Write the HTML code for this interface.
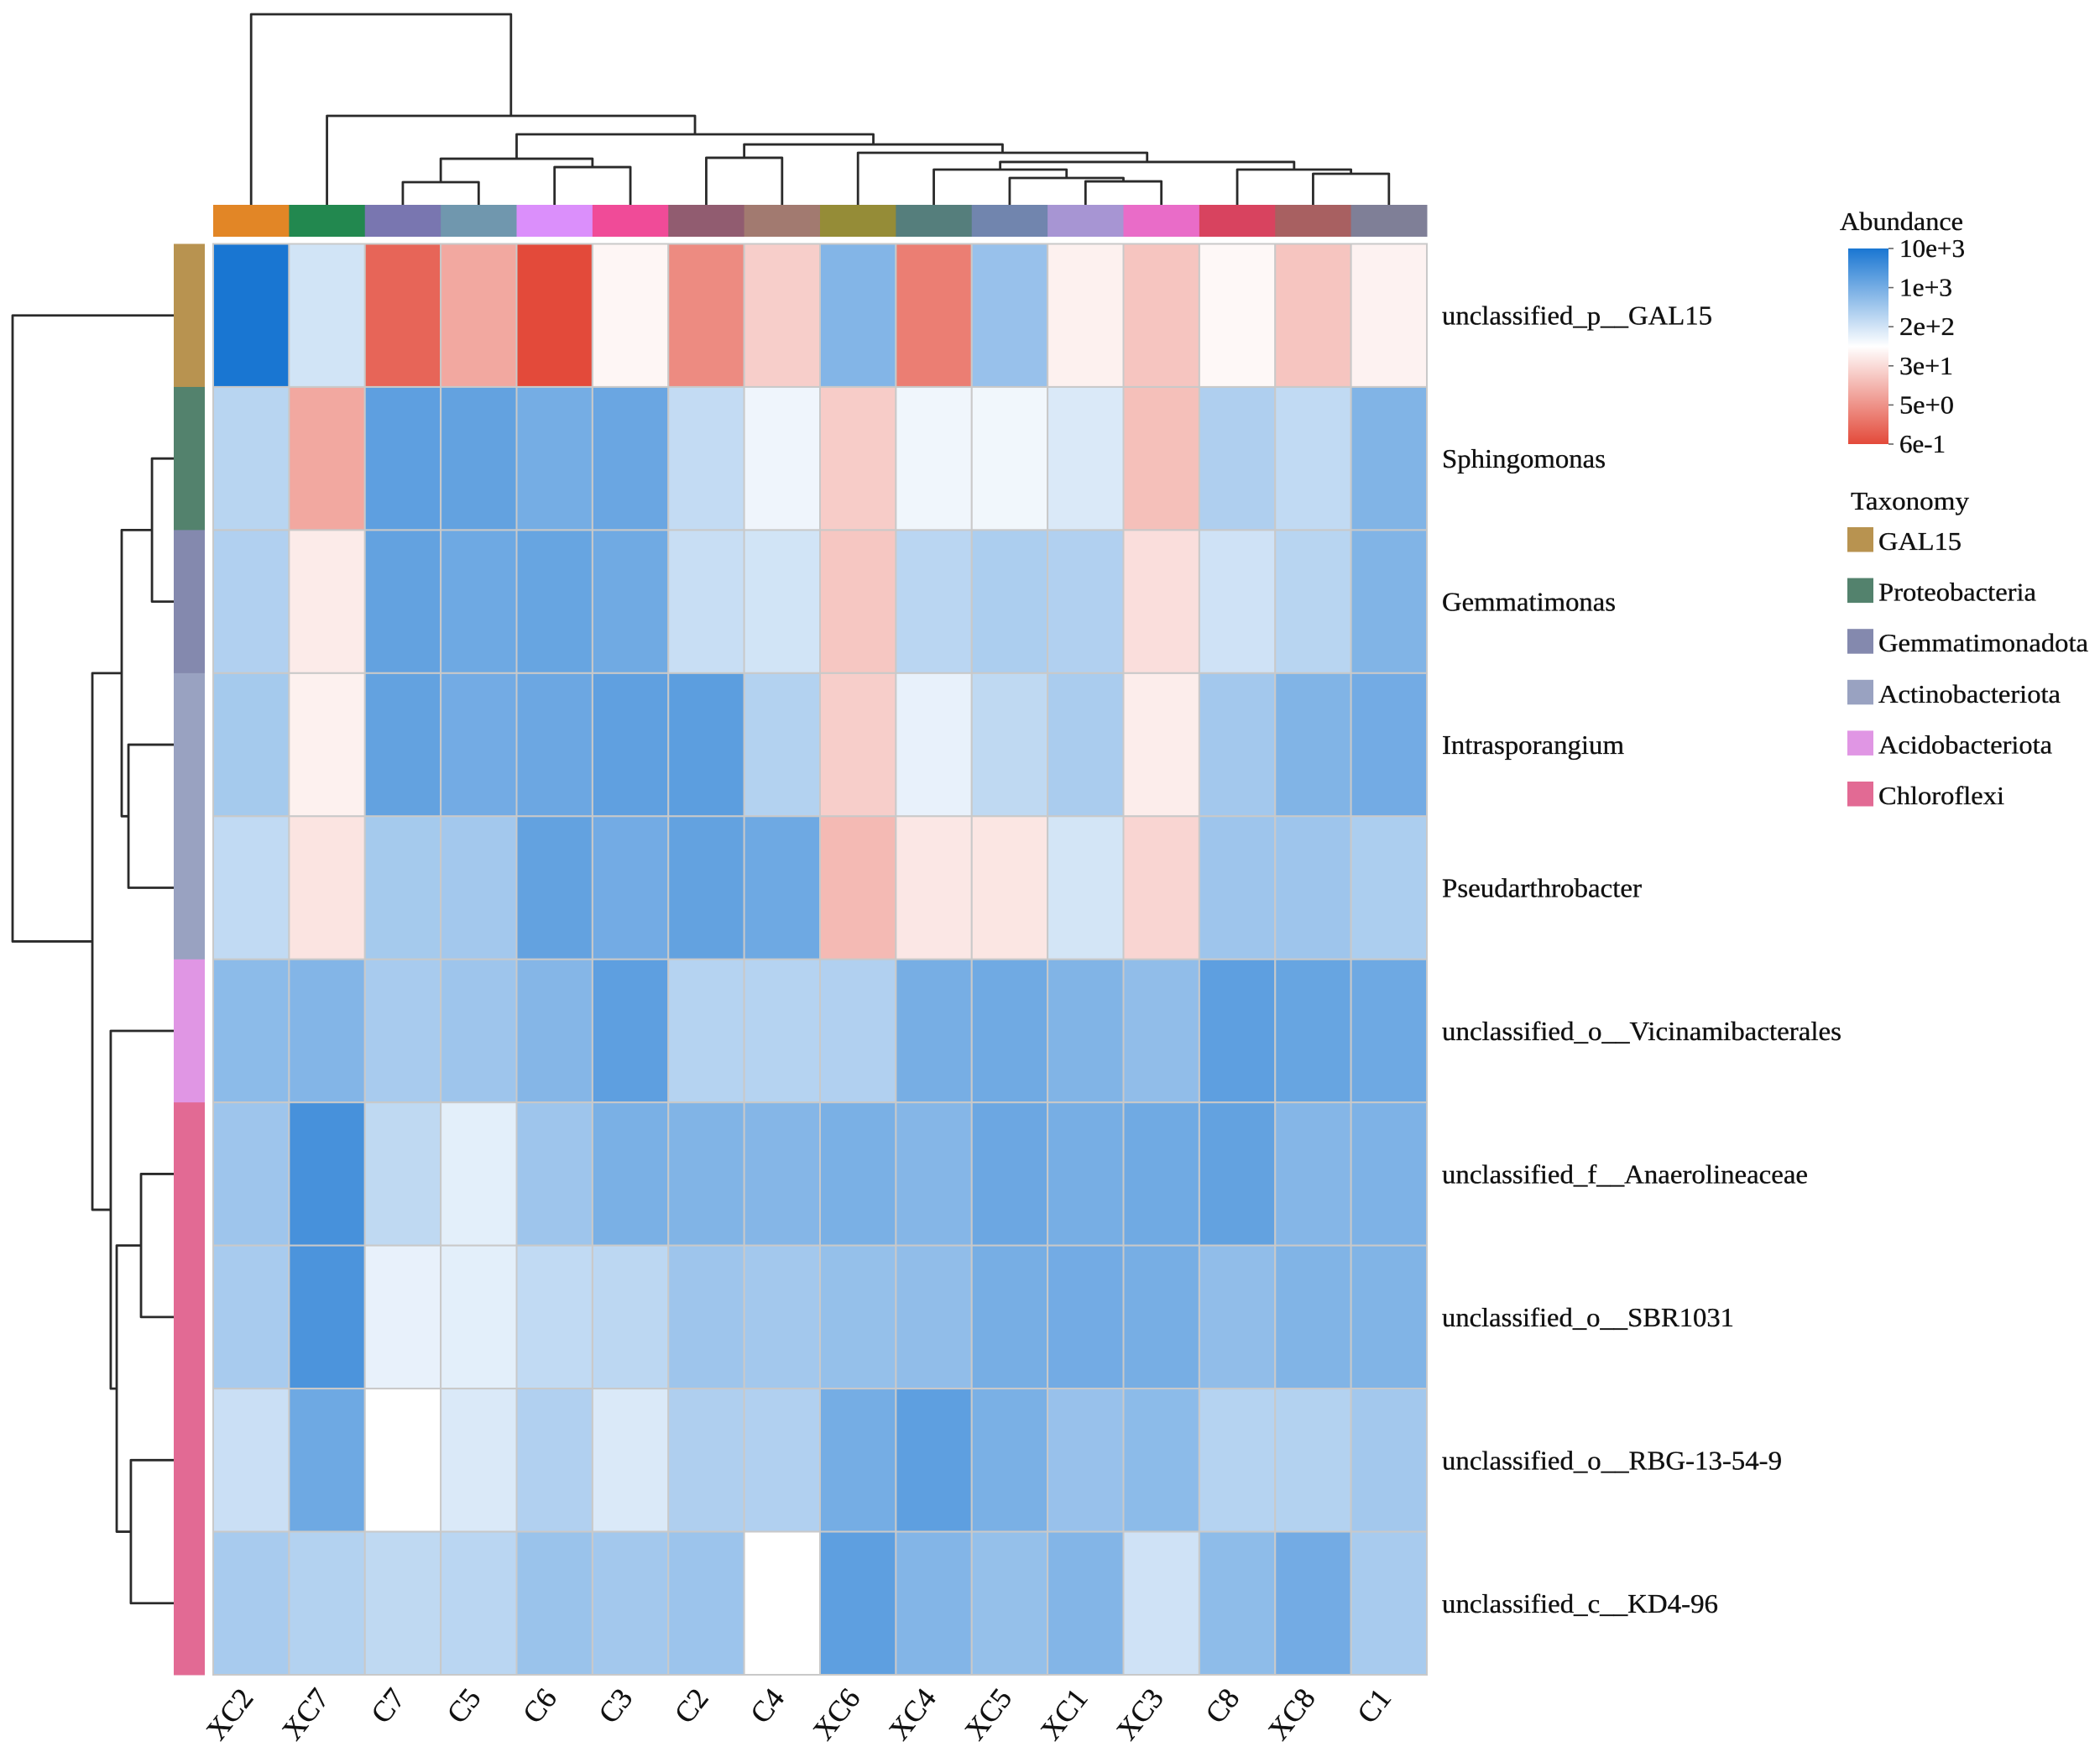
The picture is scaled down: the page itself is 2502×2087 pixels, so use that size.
<!DOCTYPE html>
<html lang="en">
<head>
<meta charset="utf-8">
<title>Taxonomic abundance clustered heatmap</title>
<style>
html,body{margin:0;padding:0;background:#fff;}
svg{display:block;}
text{font-family:"Liberation Serif","DejaVu Serif",serif;fill:#111;stroke:#111;stroke-width:0.35px;}
</style>
</head>
<body>
<svg id="chart" xmlns="http://www.w3.org/2000/svg" width="2502" height="2087" viewBox="0 0 2502 2087">
  <defs>
    <linearGradient id="cbar" x1="0" y1="0" x2="0" y2="1">
      <stop offset="0" stop-color="#1976d2"/>
      <stop offset="0.5" stop-color="#ffffff"/>
      <stop offset="1" stop-color="#e34a3a"/>
    </linearGradient>
  </defs>
  <rect x="0" y="0" width="2502" height="2087" fill="#ffffff"/>
  <g id="colDendro"></g>
  <g id="rowDendro"></g>
  <g id="colAnnot"></g>
  <g id="rowAnnot"></g>
  <g id="cells"></g>
  <g id="rowLabels"></g>
  <g id="colLabels"></g>
  <g>
    <text x="2192" y="274" font-size="31" textLength="147" lengthAdjust="spacingAndGlyphs">Abundance</text>
    <rect x="2202" y="296" width="48" height="233" fill="url(#cbar)"/>
    <g id="cbarTicks"></g>
  </g>
  <g>
    <text x="2205" y="607" font-size="31" textLength="141" lengthAdjust="spacingAndGlyphs">Taxonomy</text>
    <g id="taxLegend"></g>
  </g>
</svg>
<script>
// ---- Data ----
const sampleNames = ["XC2","XC7","C7","C5","C6","C3","C2","C4","XC6","XC4","XC5","XC1","XC3","C8","XC8","C1"];
const sampleColors = ["#e28626","#22884f","#7976b0","#7097ae","#db8ffb","#f04b98","#915c70","#a27a70","#958c37","#557e7c","#7185ae","#a795d3","#e96cc8","#d8435f","#a86061","#7f7f97"];
const taxaNames = ["unclassified_p__GAL15","Sphingomonas","Gemmatimonas","Intrasporangium","Pseudarthrobacter","unclassified_o__Vicinamibacterales","unclassified_f__Anaerolineaceae","unclassified_o__SBR1031","unclassified_o__RBG-13-54-9","unclassified_c__KD4-96"];
const taxaGroups = ["GAL15","Proteobacteria","Gemmatimonadota","Actinobacteriota","Actinobacteriota","Acidobacteriota","Chloroflexi","Chloroflexi","Chloroflexi","Chloroflexi"];
const groupNames = ["GAL15","Proteobacteria","Gemmatimonadota","Actinobacteriota","Acidobacteriota","Chloroflexi"];
const groupColors = ["#b89350","#53826d","#8489ae","#99a2c1","#e096e4","#e26a94"];
const colorbarTicks = ["10e+3","1e+3","2e+2","3e+1","5e+0","6e-1"];

// Scaled abundance per taxon: +1 = deepest blue, 0 = white, -1 = deepest red
const scoresGAL15 = [1,.2,-.85,-.48,-1,-.05,-.64,-.27,.54,-.71,.45,-.08,-.32,-.04,-.32,-.07];
const scoresSphingomonas = [.31,-.48,.7,.68,.6,.65,.26,.07,-.28,.065,.06,.16,-.35,.35,.27,.55];
const scoresGemmatimonas = [.34,-.11,.68,.63,.66,.62,.24,.2,-.31,.3,.36,.34,-.18,.21,.31,.55];
const scoresIntrasporangium = [.39,-.08,.68,.61,.64,.69,.71,.33,-.27,.1,.28,.37,-.1,.4,.55,.61];
const scoresPseudarthrobacter = [.27,-.15,.39,.4,.68,.61,.68,.63,-.38,-.13,-.14,.19,-.23,.42,.42,.36];
const scoresVicinamibacterales = [.5,.54,.38,.42,.53,.7,.32,.32,.34,.59,.62,.55,.48,.7,.66,.63];
const scoresAnaerolineaceae = [.42,.8,.28,.12,.42,.58,.55,.53,.58,.53,.64,.59,.62,.68,.53,.56];
const scoresSBR1031 = [.38,.78,.1,.12,.27,.29,.42,.4,.46,.48,.59,.61,.59,.48,.55,.55];
const scoresRBG = [.23,.63,0,.16,.34,.16,.35,.34,.6,.7,.58,.45,.5,.32,.33,.4];
const scoresKD496 = [.38,.33,.28,.3,.44,.4,.43,0,.7,.54,.46,.54,.21,.49,.61,.38];
const heatRows = [scoresGAL15,scoresSphingomonas,scoresGemmatimonas,scoresIntrasporangium,scoresPseudarthrobacter,scoresVicinamibacterales,scoresAnaerolineaceae,scoresSBR1031,scoresRBG,scoresKD496];

// Dendrogram merges: [left, right, distance]. n>=0 is a leaf index; n<0 is merge ~n.
const colMerges = [[2,3,11.9],[4,5,19.8],[-1,-2,24.2],[6,7,24.7],[11,12,12.3],[10,-5,14.1],[9,-6,18.5],[14,15,16.3],[13,-8,18.5],[-7,-9,22.5],[8,-10,27.3],[-4,-11,31.7],[-3,-12,37.0],[1,-13,46.7],[0,-14,100]];
const rowMerges = [[1,2,13.5],[3,4,28.1],[-1,-2,32.3],[6,7,20.3],[8,9,26.6],[-4,-5,35.4],[5,-6,39.1],[-3,-7,50.5],[0,-8,100]];

// ---- Layout and scales ----
const NS = "http://www.w3.org/2000/svg";
const plotLeft = 254, plotRight = 1700, plotTop = 290.5, plotBottom = 1995;
const cellW = (plotRight - plotLeft) / sampleNames.length;
const cellH = (plotBottom - plotTop) / taxaNames.length;
const xAt = i => plotLeft + cellW * i;
const yAt = i => plotTop + cellH * i;
const colDendroY = d => 244 - d / 100 * 227;
const rowDendroX = d => 207 - d / 100 * 192;

function colorFor(v) {
  const t = Math.min(1, Math.abs(v));
  const end = v >= 0 ? [25,118,210] : [227,74,58];
  const c = end.map(e => Math.round(255 + (e - 255) * t));
  return "rgb(" + c.join(",") + ")";
}
function make(tag, attrs, parent) {
  const el = document.createElementNS(NS, tag);
  for (const k in attrs) el.setAttribute(k, attrs[k]);
  parent.appendChild(el);
  return el;
}
function slug(s) {
  return s.toLowerCase().replace(/[^a-z0-9]+/g, "-");
}

// Heat cells
const cellsG = document.getElementById("cells");
heatRows.forEach((row, r) => {
  row.forEach((v, c) => {
    const el = make("rect", {x: xAt(c), y: yAt(r), width: cellW, height: cellH, fill: colorFor(v), stroke: "#c9c9c9", "stroke-width": 2}, cellsG);
    
    
  });
});

// Column annotations and labels
const colAnnotG = document.getElementById("colAnnot");
const colLabelsG = document.getElementById("colLabels");
sampleNames.forEach((name, c) => {
  const bar = make("rect", {x: xAt(c), y: 244, width: cellW + 0.5, height: 38, fill: sampleColors[c]}, colAnnotG);
  
  
  const cx = xAt(c) + cellW / 2 + 4, ly = 2023;
  const label = make("text", {x: cx, y: ly, "font-size": 35, "text-anchor": "end", transform: "rotate(-52 " + cx + " " + ly + ")"}, colLabelsG);
  label.textContent = name;
  
  
});

// Row annotations and labels
const rowAnnotG = document.getElementById("rowAnnot");
const rowLabelsG = document.getElementById("rowLabels");
const labelWidths = [322,195,207,217,238,476,436,348,405,329];
taxaNames.forEach((name, r) => {
  const color = groupColors[groupNames.indexOf(taxaGroups[r])];
  const bar = make("rect", {x: 207, y: yAt(r), width: 37, height: cellH + 0.5, fill: color}, rowAnnotG);
  
  
  const label = make("text", {x: 1718, y: yAt(r) + cellH / 2 + 11, "font-size": 32, textLength: labelWidths[r], lengthAdjust: "spacingAndGlyphs"}, rowLabelsG);
  label.textContent = name;
  
  
});

// Dendrograms
function drawDendrogram(merges, leafPos, distPos, vertical, parent, prefix) {
  const pos = [];
  const place = n => n >= 0 ? [leafPos(n), null] : pos[~n];
  merges.forEach((m, i) => {
    const a = place(m[0]), b = place(m[1]);
    const here = distPos(m[2]);
    const base = vertical ? 244 : 207;
    const aEnd = a[1] === null ? base : a[1];
    const bEnd = b[1] === null ? base : b[1];
    const d = vertical
      ? "M" + a[0] + " " + aEnd + "V" + here + "H" + b[0] + "V" + bEnd
      : "M" + aEnd + " " + a[0] + "H" + here + "V" + b[0] + "H" + bEnd;
    const p = make("path", {d: d, fill: "none", stroke: "#2a2a2a", "stroke-width": 2.8, "stroke-linejoin": "round"}, parent);
    
    
    pos[i] = [(a[0] + b[0]) / 2, here];
  });
}
drawDendrogram(colMerges, i => xAt(i) + cellW / 2, colDendroY, true, document.getElementById("colDendro"), "column-dendrogram");
drawDendrogram(rowMerges, i => yAt(i) + cellH / 2, rowDendroX, false, document.getElementById("rowDendro"), "row-dendrogram");

// Colorbar ticks
const cbarTop = 296, cbarBottom = 529;
const tickWidths = [78,63,66,64,65,55];
const cbarG = document.getElementById("cbarTicks");
colorbarTicks.forEach((t, i) => {
  const y = cbarTop + (cbarBottom - cbarTop) * i / (colorbarTicks.length - 1);
  const tick = make("line", {x1: 2250, x2: 2256, y1: y, y2: y, stroke: "#666666", "stroke-width": 1.6}, cbarG);
  
  
  const label = make("text", {x: 2263, y: y + 10, "font-size": 31, textLength: tickWidths[i], lengthAdjust: "spacingAndGlyphs"}, cbarG);
  label.textContent = t;
  
  
});

// Taxonomy legend
const taxG = document.getElementById("taxLegend");
const legendWidths = [99,188,250,217,207,150];
groupNames.forEach((g, i) => {
  const top = 628 + 60.6 * i;
  const sw = make("rect", {x: 2201, y: top, width: 31, height: 29.5, fill: groupColors[i]}, taxG);
  
  
  const label = make("text", {x: 2238, y: top + 27, "font-size": 31, textLength: legendWidths[i], lengthAdjust: "spacingAndGlyphs"}, taxG);
  label.textContent = g;
  
  
});
</script>
</body>
</html>
